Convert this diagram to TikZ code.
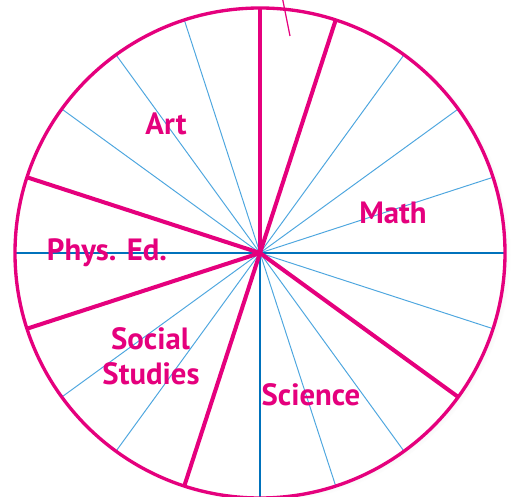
\documentclass[tikz,border=0pt]{standalone}
\usepackage{fontspec}
\setmainfont{PT Sans}
\usetikzlibrary{shadows}
\definecolor{rim}{HTML}{E5007D}
\definecolor{spokeblue}{HTML}{4DA6DF}
\definecolor{axisblue}{HTML}{0072BC}
\tikzset{
  spoke/.style={spokeblue,line width=0.55pt},
  axis/.style={axisblue,line width=0.6pt},
  divider/.style={rim,line width=2.3pt},
  subject/.style={text=rim,font=\bfseries\fontsize{17.5}{21}\selectfont,anchor=base,inner sep=0pt}
}
\begin{document}
\begin{tikzpicture}[x=0.02cm,y=0.02cm]
\useasboundingbox (-260,-244) rectangle (254,253);
% \draw[help lines] (-260,-244) grid (254,253);
\node (wheel) [circle,fill=white,inner sep=0pt,minimum size=9.8cm,
  circular drop shadow={shadow xshift=2pt,shadow yshift=-1pt,opacity=0.35,shadow scale=1.01}] at (0,0) {};
\coordinate (hub) at (0,0);
%
\foreach \a in {18,36,54,108,126,144,216,234,252,288,306,342}
  \path[spoke] (hub) edge (wheel.\a);
\foreach \a in {0,180,270}
  \path[axis] (hub) edge (wheel.\a);
\foreach \a in {90,72,-36,-108,-162,162}
  \path[divider] (hub) edge (wheel.\a);
\draw[rim,line width=1.9pt] (wheel) circle (245);
%
\coordinate (tip) at (30,217);
\coordinate (tail) at (21,262);
\path[rim,line width=0.7pt] (tail) edge (tip);
%
\node (art) [subject] at (-94,118) {Art};
\node (math) [subject] at (133,30) {Math};
\node (phys) [subject] at (-153,-8) {Phys. Ed.};
\node (social) [subject] at (-109.5,-96) {Social};
\node (studies) [subject] at (-109,-131) {Studies};
\node (science) [subject] at (51,-152) {Science};
\end{tikzpicture}
\end{document}
